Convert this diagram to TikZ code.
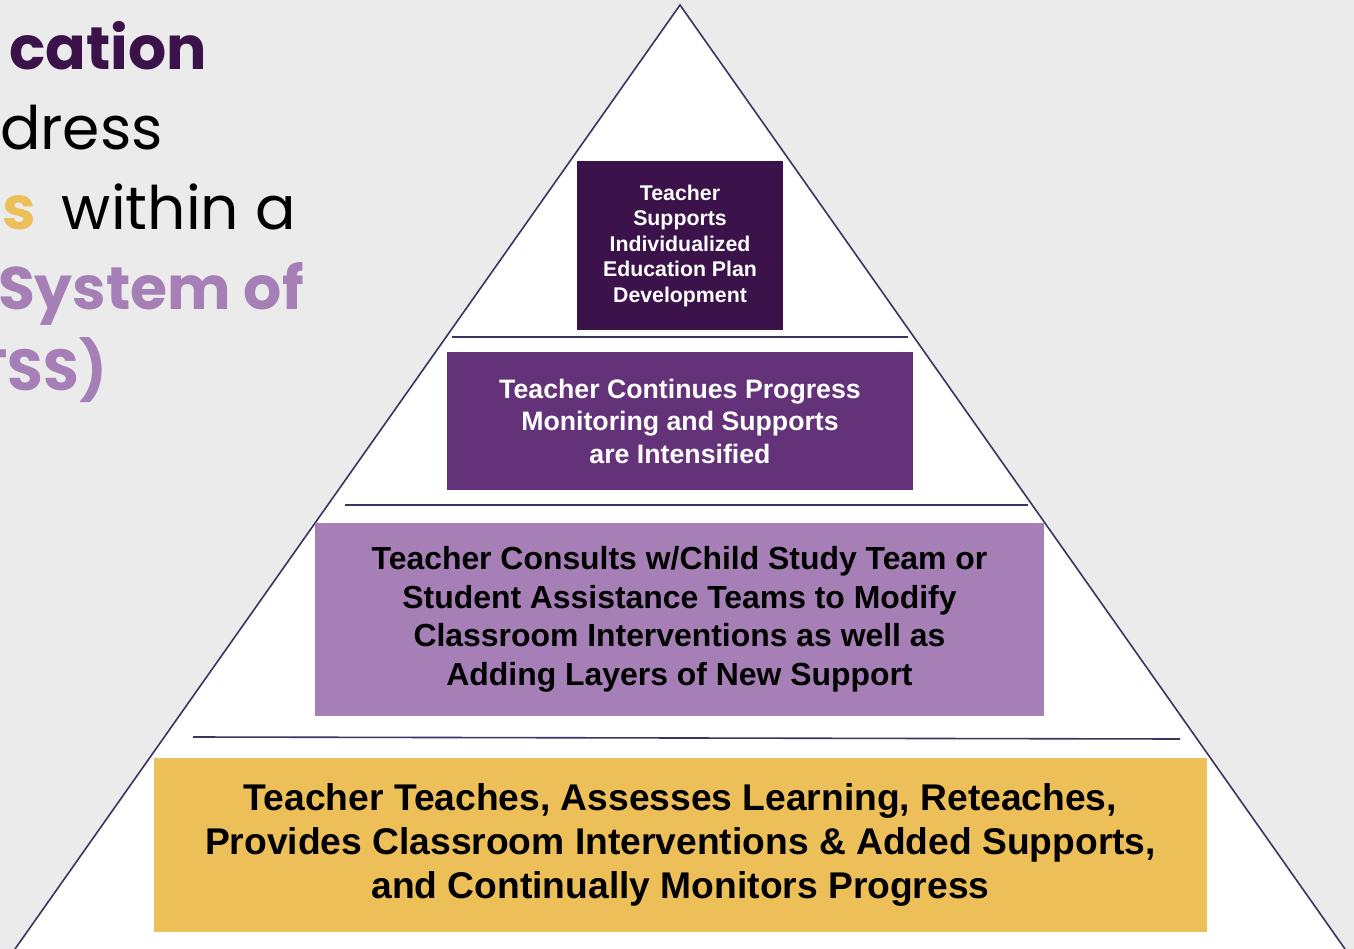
\documentclass[tikz,border=0pt]{standalone}
\usepackage{fontspec}
\setmainfont{Liberation Sans}
\newfontfamily\gothic{Poppins}
\usepackage{tikz}

\definecolor{bggray}{HTML}{EBEBEB}
\definecolor{edgeblue}{HTML}{3B3461}
\definecolor{darkplum}{HTML}{3B1249}
\definecolor{midplum}{HTML}{643278}
\definecolor{lightplum}{HTML}{A57FB5}
\definecolor{gold}{HTML}{EDBF58}

\tikzset{
    tier/.style={fill=#1, inner sep=0pt, align=center},
    tierline/.style={color=edgeblue, line width=1.6pt},
    title/.style={anchor=base east, inner sep=0pt},
}

\begin{document}
\begin{tikzpicture}[x=1pt,y=-1pt]
    \fill[bggray] (0,0) rectangle (1354,949);
    \useasboundingbox (0,0) rectangle (1354,949);
    % heading on the left, cut by the page edge
    \begin{scope}
    \clip (0,0) rectangle (1354,949);
    \node[title, font=\gothic\bfseries\fontsize{60}{72}\selectfont, text=darkplum] (head1) at (207,70) {cation};
    \node[title, font=\gothic\fontsize{60}{72}\selectfont] (head2) at (163,150) {dress};
    \node[title, font=\gothic\bfseries\fontsize{60}{72}\selectfont, text=gold] (head3a) at (36,230) {s};
    \node[title, font=\gothic\fontsize{60}{72}\selectfont] (head3) at (296,230) {within a};
    \node[title, font=\gothic\bfseries\fontsize{60}{72}\selectfont, text=lightplum] (head4) at (304,310) {System of};
    \node[title, font=\gothic\bfseries\fontsize{58}{72}\selectfont, text=lightplum] (head5) at (107,390) {TSS)};
    \end{scope}
    % pyramid
    \coordinate (apex) at (680,5);
    \coordinate (baseL) at (15,949);
    \coordinate (baseR) at (1345,949);
    \filldraw[fill=white, draw=edgeblue, line width=1.6pt] (baseL) -- (apex) -- (baseR);
    \draw[tierline] (452,337) -- (908,337);
    \draw[tierline] (345,505) -- (1028,505);
    \draw[tierline] (193,737) -- (1180,739);
    % tiers, top to bottom
    \node[tier=darkplum, text=white, minimum width=206, minimum height=169,
          font=\bfseries\fontsize{21.3}{25.5}\selectfont] (top) at (680,245.5)
          {Teacher\\Supports\\Individualized\\Education Plan\\Development};
    \node[tier=midplum, text=white, minimum width=466, minimum height=138,
          font=\bfseries\fontsize{26.7}{32.5}\selectfont] (second) at (680,421)
          {Teacher Continues Progress\\Monitoring and Supports\\are Intensified};
    \node[tier=lightplum, text=black, minimum width=729, minimum height=193,
          font=\bfseries\fontsize{31.9}{38.5}\selectfont] (third) at (679.5,619.5)
          {Teacher Consults w/Child Study Team or\\Student Assistance Teams to Modify\\Classroom Interventions as well as\\Adding Layers of New Support};
    \node[tier=gold, text=black, minimum width=1053, minimum height=174,
          font=\bfseries\fontsize{37.2}{44}\selectfont] (bottom) at (680.5,845)
          {Teacher Teaches, Assesses Learning, Reteaches,\\Provides Classroom Interventions \& Added Supports,\\and Continually Monitors Progress};
\end{tikzpicture}
\end{document}
